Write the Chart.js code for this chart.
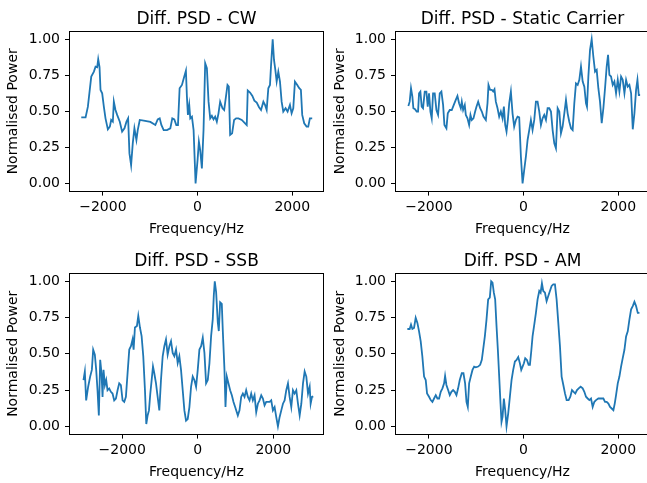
<!DOCTYPE html>
<html>
<head>
<meta charset="utf-8">
<script src="https://cdn.jsdelivr.net/npm/chart.js@4.4.1/dist/chart.umd.min.js"></script>
<style>
html, body { margin: 0; padding: 0; background: #fff; width: 647px; height: 483px; overflow: hidden; }
canvas { position: absolute; }
</style>
</head>
<body>
<canvas id="cw" width="330" height="240" style="left:0;top:0"></canvas>
<canvas id="static" width="326" height="240" style="left:327px;top:0"></canvas>
<canvas id="ssb" width="330" height="243" style="left:0;top:240px"></canvas>
<canvas id="am" width="326" height="243" style="left:327px;top:240px"></canvas>
<script>
// Values
const titles = ['Diff. PSD - CW', 'Diff. PSD - Static Carrier', 'Diff. PSD - SSB', 'Diff. PSD - AM'];
const xTicks = [-2000, 0, 2000];
const yTicks = [0, 0.25, 0.5, 0.75, 1];

const cwFreq = [-2457,-2366,-2317,-2246,-2190,-2155,-2120,-2099,-2071,-2050,-2015,-1980,-1945,-1895,-1853,-1825,-1790,-1769,-1734,-1699,
  -1643,-1594,-1544,-1502,-1467,-1439,-1404,-1369,-1334,-1292,-1264,-1221,-1137,-997,-892,-842,-800,-765,-716,-646,
  -576,-534,-491,-449,-414,-379,-330,-281,-246,-225,-204,-176,-154,-119,-84,-42,0,28,56,91,
  126,161,197,232,267,302,337,372,407,442,477,527,562,604,632,660,688,730,772,814,
  863,934,1004,1039,1060,1109,1158,1200,1250,1299,1341,1390,1425,1460,1495,1530,1551,1587,1615,1643,
  1671,1706,1741,1776,1811,1860,1902,1952,1987,2022,2057,2106,2148,2183,2211,2253,2303,2338,2373,2422];
const cwPower = [.458,.458,.532,.741,.775,.810,.806,.861,.806,.648,.625,.532,.451,.375,.394,.440,.428,.567,.509,.475,
  .428,.359,.382,.428,.451,.208,.127,.278,.382,.301,.370,.440,.435,.426,.405,.444,.451,.405,.370,.370,
  .382,.451,.444,.405,.405,.660,.683,.741,.782,.602,.475,.544,.451,.463,.370,0,.162,.289,.231,.104,
  .370,.833,.799,.567,.451,.468,.444,.463,.428,.486,.567,.521,.509,.613,.683,.671,.336,.347,.440,.451,
  .451,.440,.417,.405,.644,.630,.606,.574,.560,.528,.509,.567,.544,.509,.660,.683,.810,1.0,.856,.787,
  .706,.775,.706,.567,.498,.521,.498,.544,.486,.521,.706,.683,.660,.648,.475,.417,.394,.394,.451,.451];

const staticFreq = [-2434,-2406,-2378,-2349,-2328,-2293,-2258,-2229,-2208,-2180,-2152,-2124,-2088,-2053,-2025,-1997,-1968,-1940,-1912,-1877,
  -1841,-1806,-1771,-1736,-1700,-1672,-1630,-1601,-1559,-1517,-1474,-1432,-1397,-1362,-1326,-1305,-1277,-1242,-1220,-1185,
  -1150,-1122,-1094,-1058,-1023,-995,-959,-917,-882,-847,-797,-762,-741,-706,-670,-642,-614,-586,-550,-515,
  -480,-444,-416,-388,-360,-332,-303,-268,-233,-198,-162,-127,-92,-56,-21,14,49,85,120,155,
  190,226,261,296,332,367,402,437,473,508,543,579,614,649,684,720,755,790,825,861,
  896,931,966,1002,1037,1072,1107,1143,1178,1213,1249,1284,1319,1340,1369,1404,1439,1474,1510,1545,
  1580,1615,1651,1686,1721,1756,1785,1813,1848,1884,1919,1954,1990,2025,2060,2095,2131,2166,2201,2236,
  2272,2307,2342,2377,2406,2434,2462];
const staticPower = [.537,.567,.660,.602,.521,.514,.498,.498,.625,.637,.532,.521,.637,.637,.532,.625,.498,.451,.625,.625,
  .509,.475,.625,.637,.544,.405,.382,.486,.509,.509,.544,.579,.606,.556,.521,.567,.509,.544,.475,.451,
  .405,.475,.440,.451,.498,.532,.567,.521,.498,.463,.440,.556,.683,.648,.648,.637,.653,.567,.521,.463,
  .498,.451,.532,.405,.359,.440,.556,.637,.486,.394,.440,.463,.458,.185,0,.093,.185,.301,.370,.440,
  .370,.440,.567,.567,.498,.405,.451,.475,.440,.521,.521,.498,.370,.278,.243,.521,.498,.347,.394,.486,
  .579,.486,.428,.382,.370,.556,.694,.683,.718,.810,.706,.671,.556,.532,.741,.926,1.0,.880,.775,.787,
  .660,.567,.417,.521,.660,.810,.891,.752,.741,.683,.706,.625,.718,.637,.741,.718,.625,.718,.671,.683,
  .625,.375,.486,.648,.718,.613,.613];

const ssbFreq = [-3027,-2991,-2956,-2903,-2850,-2805,-2770,-2726,-2690,-2655,-2620,-2584,-2549,-2522,-2496,-2460,-2425,-2390,-2345,-2301,
  -2257,-2213,-2168,-2124,-2080,-2036,-1991,-1947,-1903,-1859,-1814,-1770,-1726,-1699,-1664,-1611,-1575,-1531,-1487,-1443,
  -1398,-1363,-1328,-1292,-1257,-1221,-1186,-1151,-1106,-1062,-1018,-974,-929,-885,-841,-797,-752,-708,-664,-620,
  -575,-531,-487,-443,-398,-354,-310,-266,-221,-177,-133,-89,-44,0,44,89,133,177,221,266,
  310,354,398,425,451,487,531,558,593,637,664,708,735,770,814,858,903,947,991,1062,
  1106,1151,1195,1239,1283,1328,1372,1416,1460,1505,1549,1593,1637,1682,1726,1770,1814,1859,1903,1947,
  1991,2036,2080,2124,2168,2213,2257,2301,2345,2390,2434,2478,2522,2567,2611,2655,2700,2744,2788,2832,
  2876,2921,2965,2991,3027,3060];
const ssbPower = [.319,.378,.179,.273,.343,.389,.529,.494,.389,.249,.075,.459,.366,.203,.389,.284,.319,.249,.261,.238,
  .226,.179,.191,.249,.296,.284,.179,.168,.203,.366,.529,.552,.599,.529,.681,.692,.762,.681,.622,.483,
  .249,.016,.075,.110,.226,.319,.413,.366,.296,.203,.110,.319,.483,.552,.599,.494,.552,.587,.506,.483,
  .529,.436,.483,.389,.249,.110,.040,.051,.133,.273,.343,.319,.273,.389,.529,.552,.611,.506,.296,.319,
  .436,.622,.739,.902,1.0,.925,.716,.657,.855,.844,.657,.389,.133,.343,.296,.249,.214,.168,.133,.075,
  .110,.203,.226,.203,.249,.203,.179,.226,.179,.214,.098,.156,.179,.214,.191,.145,.168,.168,.168,.179,
  .110,.133,.063,0,.063,.110,.156,.179,.249,.296,.203,.133,.249,.226,.249,.156,.075,.156,.296,.378,
  .343,.226,.273,.156,.203,.207];

const amFreq = [-2455,-2406,-2378,-2349,-2314,-2279,-2243,-2208,-2173,-2138,-2102,-2067,-2039,-1997,-1961,-1926,-1891,-1855,-1820,-1785,
  -1750,-1714,-1679,-1658,-1630,-1594,-1559,-1524,-1489,-1453,-1418,-1383,-1348,-1305,-1270,-1235,-1206,-1178,-1150,-1115,
  -1079,-1044,-1009,-959,-917,-882,-854,-818,-783,-748,-713,-684,-656,-628,-600,-571,-543,-515,-487,-466,
  -444,-416,-388,-360,-325,-289,-254,-219,-183,-148,-113,-78,-49,-21,7,35,71,106,134,162,
  190,226,261,296,332,360,388,416,452,487,522,557,593,628,663,698,734,769,804,840,
  875,910,952,988,1023,1058,1093,1129,1164,1206,1249,1284,1319,1355,1390,1425,1460,1496,1531,1580,
  1637,1686,1721,1756,1792,1827,1862,1898,1926,1954,1990,2025,2060,2095,2131,2166,2201,2236,2272,2307,
  2342,2377,2413,2448];
const amPower = [.671,.671,.701,.671,.678,.748,.713,.655,.586,.481,.343,.319,.227,.204,.181,.169,.192,.215,.192,.192,
  .238,.262,.296,.347,.285,.250,.215,.238,.250,.238,.215,.262,.319,.366,.366,.296,.169,.134,.296,.343,
  .389,.412,.407,.412,.424,.458,.528,.620,.736,.875,.887,1.0,.991,.921,.875,.690,.528,.343,.157,.030,
  .065,.192,.111,0,.088,.204,.319,.389,.447,.458,.477,.435,.389,.412,.435,.470,.458,.424,.424,.516,
  .620,.701,.782,.875,.933,.921,.986,.933,.921,.863,.898,.933,.968,.979,.979,.875,.713,.551,.343,.285,
  .227,.181,.181,.204,.250,.238,.227,.250,.262,.273,.262,.238,.204,.192,.181,.192,.134,.169,.181,.192,
  .192,.192,.169,.169,.157,.134,.123,.111,.157,.215,.296,.343,.412,.470,.528,.620,.655,.736,.806,.829,
  .859,.829,.782,.782];

Chart.defaults.font.family = "'DejaVu Sans', sans-serif";
Chart.defaults.color = '#000';

// matplotlib style frame plus a title centred over the plot area
const framePlugin = {
  id: 'frame',
  afterDraw(chart, args, opts) {
    const a = chart.chartArea, c = chart.ctx;
    c.save();
    c.strokeStyle = '#000';
    c.lineWidth = 1;
    c.strokeRect(Math.round(a.left) - 0.5, Math.round(a.top) - 0.5,
      Math.round(a.right - a.left) + 1, Math.round(a.bottom - a.top) + 1);
    c.fillStyle = '#000';
    c.font = "17px 'DejaVu Sans', sans-serif";
    c.textAlign = 'center';
    c.textBaseline = 'middle';
    c.fillText(opts.text, (a.left + a.right) / 2, opts.y);
    c.restore();
  }
};

function panel(id, title, freq, power, xMin, xMax, o) {
  const tickGrid = { drawOnChartArea: false, tickLength: 5, color: '#000', lineWidth: 1 };
  new Chart(document.getElementById(id), {
    type: 'line',
    data: {
      datasets: [{
        data: freq.map((f, i) => ({ x: f, y: power[i] })),
        borderColor: '#1f77b4',
        borderWidth: 1.8,
        pointRadius: 0,
        tension: 0,
        fill: false
      }]
    },
    options: {
      responsive: false,
      animation: false,
      events: [],
      layout: { padding: { left: 0, right: o.padRight, top: o.padTop, bottom: o.padBottom } },
      plugins: {
        legend: { display: false },
        tooltip: { enabled: false },
        title: { display: false },
        frame: { text: title, y: o.titleY }
      },
      scales: {
        x: {
          type: 'linear', min: xMin, max: xMax,
          afterBuildTicks: s => { s.ticks = xTicks.map(v => ({ value: v })); },
          ticks: { font: { size: 14 }, padding: 3, maxRotation: 0,
            callback: v => v < 0 ? '\u2212' + Math.abs(v) : String(v) },
          grid: tickGrid,
          border: { display: false },
          title: { display: true, text: 'Frequency/Hz', font: { size: 14 }, padding: { top: 3, bottom: 3 } }
        },
        y: {
          type: 'linear', min: -0.05, max: 1.05,
          afterBuildTicks: s => { s.ticks = yTicks.map(v => ({ value: v })); },
          afterFit: s => { s.width = o.yWidth; },
          ticks: { font: { size: 14 }, padding: 5, callback: v => Number(v).toFixed(2) },
          grid: tickGrid,
          border: { display: false },
          title: { display: true, text: 'Normalised Power', font: { size: 14 }, padding: { top: 5, bottom: 0 } }
        }
      }
    },
    plugins: [framePlugin]
  });
}

panel('cw', titles[0], cwFreq, cwPower, -2695, 2650, { yWidth: 70, padRight: 7, padTop: 32, padBottom: -1.2, titleY: 19.5 });
panel('static', titles[1], staticFreq, staticPower, -2695, 2650, { yWidth: 69, padRight: 4, padTop: 32, padBottom: -1.2, titleY: 19.5 });
panel('ssb', titles[2], ssbFreq, ssbPower, -3384, 3318, { yWidth: 70, padRight: 7, padTop: 34, padBottom: -1.2, titleY: 22 });
panel('am', titles[3], amFreq, amPower, -2695, 2650, { yWidth: 69, padRight: 4, padTop: 34, padBottom: -1.2, titleY: 22 });
</script>
</body>
</html>
